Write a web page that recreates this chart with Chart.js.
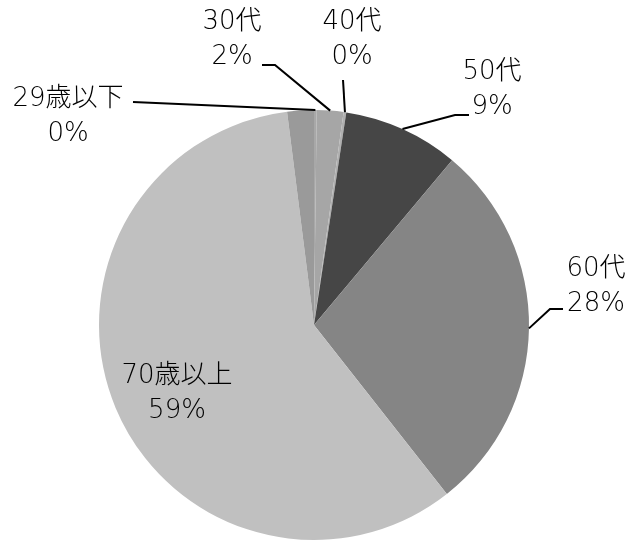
<!DOCTYPE html>
<html>
<head>
<meta charset="utf-8">
<script src="https://cdn.jsdelivr.net/npm/chart.js@4"></script>
<style>
    html, body { margin: 0; padding: 0; background: #fff; }
    #wrap { width: 636px; height: 543px; }
</style>
</head>
<body>
<div id="wrap"><canvas id="ageChart" width="636" height="543"></canvas></div>
<script>
// 年代別の構成比 (%), 12時の位置から時計回り
const categories = ['29歳以下', '30代', '40代', '50代', '60代', '70歳以上', ''];
const shares = [0.2, 2.0, 0.2, 8.7, 28.3, 58.6, 2.0];
const sliceColors = ['#a8a8a8', '#a6a6a6', '#b0b0b0', '#464646', '#858585', '#c0c0c0', '#9a9a9a'];

// label layout: text centre and leader path (null = inside slice, no leader)
const labelLayout = [
    { x: 68, y: 99, leader: [[133, 102]] },
    { x: 232, y: 22, leader: [[262, 65], [275, 65]] },
    { x: 352, y: 22, leader: [[343, 80]] },
    { x: 492, y: 72, leader: [[469, 115], [455, 115]] },
    { x: 596, y: 269, leader: [[563, 309], [550, 309]] },
    { x: 177, y: 376, leader: null },
    null
];

const PieLabels = {
    id: 'pieLabels',
    afterDatasetsDraw: (chart) => {
        const ctx = chart.ctx;
        const meta = chart.getDatasetMeta(0);
        const total = shares.reduce((a, b) => a + b, 0);

        ctx.save();
        meta.data.forEach((arc, i) => {
            const pos = labelLayout[i];
            if (!pos) return;
            const { x, y, startAngle, endAngle, outerRadius } = arc.getProps(['x', 'y', 'startAngle', 'endAngle', 'outerRadius'], true);
            const mid = (startAngle + endAngle) / 2;

            if (pos.leader) {
                ctx.strokeStyle = '#000';
                ctx.lineWidth = 2;
                ctx.beginPath();
                pos.leader.forEach((p, k) => k === 0 ? ctx.moveTo(p[0], p[1]) : ctx.lineTo(p[0], p[1]));
                ctx.lineTo(x + Math.cos(mid) * outerRadius, y + Math.sin(mid) * outerRadius);
                ctx.stroke();
            }

            ctx.fillStyle = '#000';
            ctx.font = '200 26px "DejaVu Sans", "Noto Sans CJK JP", sans-serif';
            ctx.textAlign = 'center';
            ctx.textBaseline = 'middle';
            ctx.fillText(categories[i], pos.x, pos.y);
            ctx.fillText(Math.round(shares[i] / total * 100) + '%', pos.x, pos.y + 35);
        });
        ctx.restore();
    }
};

new Chart(document.getElementById('ageChart').getContext('2d'), {
    type: 'pie',
    data: {
        labels: categories,
        datasets: [{
            data: shares,
            backgroundColor: sliceColors,
            borderWidth: 0
        }]
    },
    options: {
        responsive: false,
        animation: false,
        layout: { padding: { top: 110, bottom: 3, left: 99, right: 107 } },
        plugins: {
            legend: { display: false },
            tooltip: { enabled: false }
        }
    },
    plugins: [PieLabels]
});
</script>
</body>
</html>
